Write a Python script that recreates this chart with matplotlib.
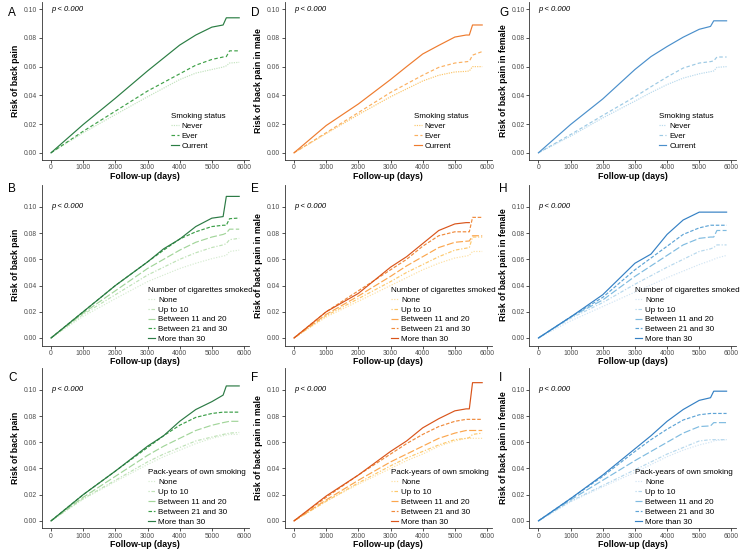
import numpy as np
import matplotlib
matplotlib.use('Agg')
import matplotlib.pyplot as plt

plt.rcParams['font.family'] = ['Liberation Sans', 'DejaVu Sans']

nan = np.nan
days = [0, 1000, 2000, 3000, 3500, 4000, 4500, 5000, 5350, 5450, 5550, 5850]

status_labels = ['Never', 'Ever', 'Current']
amount_labels = ['None', 'Up to 10', 'Between 11 and 20', 'Between 21 and 30', 'More than 30']

# A - smoking status, all
a_never = [0, 0.0139, 0.0266, 0.039, 0.045, 0.051, 0.0555, 0.058, 0.0597, 0.0606, 0.0625, 0.063]
a_ever = [0, 0.015, 0.029, 0.043, 0.049, 0.055, 0.061, 0.065, 0.0667, 0.067, 0.071, 0.071]
a_current = [0, 0.0197, 0.038, 0.057, 0.066, 0.075, 0.082, 0.0875, 0.089, 0.094, 0.094, 0.094]

# B - cigarettes smoked, all
b_none = [0, 0.0165, 0.030, 0.043, 0.048, 0.053, 0.057, 0.0605, 0.0625, 0.063, 0.066, 0.067]
b_up10 = [0, 0.018, 0.033, 0.048, 0.054, 0.060, 0.065, 0.069, 0.071, 0.072, 0.075, 0.076]
b_11_20 = [0, 0.019, 0.036, 0.053, 0.060, 0.067, 0.073, 0.077, 0.079, 0.080, 0.083, 0.083]
b_21_30 = [0, 0.020, 0.040, 0.058, 0.067, 0.0755, 0.081, 0.085, 0.086, 0.086, 0.091, 0.0915]
b_over30 = [0, 0.020, 0.040, 0.058, 0.068, 0.0754, 0.085, 0.0914, 0.0926, 0.108, 0.108, 0.108]

# C - pack-years, all
c_none = [0, 0.0165, 0.030, 0.043, 0.049, 0.054, 0.059, 0.063, 0.065, 0.0655, 0.066, 0.066]
c_up10 = [0, 0.017, 0.031, 0.045, 0.051, 0.056, 0.061, 0.064, 0.066, 0.0665, 0.067, 0.0675]
c_11_20 = [0, 0.018, 0.034, 0.050, 0.057, 0.063, 0.069, 0.073, 0.075, 0.0755, 0.076, 0.076]
c_21_30 = [0, 0.020, 0.038, 0.056, 0.065, 0.073, 0.079, 0.082, 0.083, 0.083, 0.083, 0.083]
c_over30 = [0, 0.020, 0.038, 0.057, 0.065, 0.076, 0.085, 0.091, 0.096, 0.103, 0.103, 0.103]

# D - smoking status, male
d_never = [0, 0.0134, 0.0266, 0.039, 0.0445, 0.050, 0.054, 0.0563, 0.0567, 0.057, 0.060, 0.060]
d_ever = [0, 0.014, 0.028, 0.042, 0.048, 0.054, 0.0595, 0.0625, 0.0634, 0.0637, 0.068, 0.0705]
d_current = [0, 0.019, 0.034, 0.051, 0.060, 0.0688, 0.0748, 0.0806, 0.082, 0.082, 0.089, 0.089]

# E - cigarettes smoked, male
e_none = [0, 0.016, 0.028, 0.040, 0.046, 0.052, 0.057, 0.061, 0.0625, 0.063, 0.066, 0.066]
e_up10 = [0, 0.017, 0.030, 0.043, 0.050, 0.056, 0.062, 0.067, 0.0685, 0.069, 0.077, 0.077]
e_11_20 = [0, 0.018, 0.032, 0.047, 0.055, 0.062, 0.069, 0.073, 0.0738, 0.074, 0.078, 0.078]
e_21_30 = [0, 0.020, 0.036, 0.052, 0.060, 0.070, 0.078, 0.081, 0.081, 0.081, 0.092, 0.092]
e_over30 = [0, 0.020, 0.034, 0.054, 0.062, 0.072, 0.082, 0.087, 0.088, 0.088, nan, nan]

# F - pack-years, male
f_none = [0, 0.015, 0.028, 0.040, 0.046, 0.051, 0.057, 0.061, 0.063, 0.063, 0.063, 0.063]
f_up10 = [0, 0.015, 0.029, 0.042, 0.048, 0.053, 0.058, 0.062, 0.063, 0.0635, 0.066, 0.067]
f_11_20 = [0, 0.016, 0.031, 0.045, 0.051, 0.057, 0.063, 0.067, 0.069, 0.069, 0.069, 0.069]
f_21_30 = [0, 0.018, 0.035, 0.051, 0.059, 0.066, 0.072, 0.076, 0.0775, 0.0775, 0.0775, 0.0775]
f_over30 = [0, 0.019, 0.035, 0.053, 0.061, 0.071, 0.078, 0.084, 0.0855, 0.0855, 0.1055, 0.1055]

# G - smoking status, female
g_never = [0, 0.0116, 0.0243, 0.036, 0.042, 0.0475, 0.052, 0.055, 0.0565, 0.057, 0.0595, 0.060]
g_ever = [0, 0.0127, 0.026, 0.039, 0.046, 0.0528, 0.059, 0.0625, 0.0635, 0.064, 0.0667, 0.0667]
g_current = [0, 0.0197, 0.0375, 0.058, 0.067, 0.074, 0.0805, 0.086, 0.088, 0.0919, 0.0919, 0.0919]

# H - cigarettes smoked, female
h_none = [0, 0.013, 0.024, 0.035, 0.0405, 0.046, 0.051, 0.056, 0.059, 0.060, 0.061, 0.063]
h_up10 = [0, 0.015, 0.027, 0.041, 0.0475, 0.054, 0.060, 0.066, 0.068, 0.069, 0.071, 0.071]
h_11_20 = [0, 0.016, 0.029, 0.047, 0.055, 0.063, 0.071, 0.076, 0.077, 0.077, 0.082, 0.082]
h_21_30 = [0, 0.016, 0.031, 0.052, 0.061, 0.070, 0.079, 0.084, 0.086, 0.086, 0.086, 0.086]
h_over30 = [0, 0.016, 0.033, 0.057, 0.064, 0.079, 0.090, 0.096, 0.096, 0.096, 0.096, 0.096]

# I - pack-years, female
i_none = [0, 0.0145, 0.026, 0.037, 0.043, 0.049, 0.054, 0.058, 0.060, 0.061, 0.0615, 0.062]
i_up10 = [0, 0.015, 0.027, 0.039, 0.045, 0.051, 0.056, 0.061, 0.062, 0.062, 0.062, 0.062]
i_11_20 = [0, 0.016, 0.031, 0.046, 0.053, 0.060, 0.067, 0.072, 0.0725, 0.075, 0.075, 0.075]
i_21_30 = [0, 0.017, 0.034, 0.053, 0.062, 0.070, 0.077, 0.081, 0.082, 0.082, 0.082, 0.082]
i_over30 = [0, 0.017, 0.035, 0.055, 0.065, 0.076, 0.085, 0.092, 0.094, 0.099, 0.099, 0.099]

greens3 = ['#c3e3bf', '#3ea047', '#2a7d43']
greens5 = ['#d6ecd1', '#bfe2b7', '#a2d59a', '#3a9e47', '#2b7a44']
oranges3 = ['#fcc66b', '#fbb060', '#ee7b2e']
oranges5 = ['#fee0a2', '#fdc86c', '#fba64e', '#f08a3c', '#d9541a']
blues3 = ['#b8d9ed', '#9cc9e4', '#4a8fcb']
blues5 = ['#d2e5f4', '#b6d8ed', '#7fbbe0', '#5ea4d6', '#3480c4']

ls3 = [(0, (1, 1)), (0, (3, 2)), '-']
ls5 = [(0, (1, 1.3)), (0, (1, 1.5, 3, 1.5)), (0, (6, 2)), (0, (3, 1.5)), '-']

panels = [
    ('A', 0, 0, [a_never, a_ever, a_current], status_labels, 'Smoking status', 'Risk of back pain', greens3),
    ('B', 1, 0, [b_none, b_up10, b_11_20, b_21_30, b_over30], amount_labels, 'Number of cigarettes smoked', 'Risk of back pain', greens5),
    ('C', 2, 0, [c_none, c_up10, c_11_20, c_21_30, c_over30], amount_labels, 'Pack-years of own smoking', 'Risk of back pain', greens5),
    ('D', 0, 1, [d_never, d_ever, d_current], status_labels, 'Smoking status', 'Risk of back pain in male', oranges3),
    ('E', 1, 1, [e_none, e_up10, e_11_20, e_21_30, e_over30], amount_labels, 'Number of cigarettes smoked', 'Risk of back pain in male', oranges5),
    ('F', 2, 1, [f_none, f_up10, f_11_20, f_21_30, f_over30], amount_labels, 'Pack-years of own smoking', 'Risk of back pain in male', oranges5),
    ('G', 0, 2, [g_never, g_ever, g_current], status_labels, 'Smoking status', 'Risk of back pain in female', blues3),
    ('H', 1, 2, [h_none, h_up10, h_11_20, h_21_30, h_over30], amount_labels, 'Number of cigarettes smoked', 'Risk of back pain in female', blues5),
    ('I', 2, 2, [i_none, i_up10, i_11_20, i_21_30, i_over30], amount_labels, 'Pack-years of own smoking', 'Risk of back pain in female', blues5),
]

W, H = 750, 550
col_left = [41.6, 284.6, 529]
col_width = 207
row_top = [2, 184.6, 367.6]
row_height = [158, 161, 160.5]
row_ylim = [(-0.005, 0.105), (-0.0058, 0.117), (-0.0055, 0.117)]
letter_x = [8, 251, 499]
letter_y = [7, 183, 372]
axis_col = '#333333'

fig = plt.figure(figsize=(7.5, 5.5), dpi=100)

for letter, row, col, curves, labels, title, ylab, colors in panels:
    rect = [col_left[col] / W, (H - row_top[row] - row_height[row]) / H,
            col_width / W, row_height[row] / H]
    ax = fig.add_axes(rect)
    styles = ls3 if len(curves) == 3 else ls5
    for y, lab, c, ls in zip(curves, labels, colors, styles):
        ax.plot(days, y, color=c, linestyle=ls, linewidth=0.85, label=lab)
    ax.set_xlim(-292.5, 6142.5)
    ax.set_ylim(*row_ylim[row])
    ax.set_xticks(range(0, 6001, 1000))
    ax.set_yticks([0, 0.02, 0.04, 0.06, 0.08, 0.10])
    ax.set_yticklabels(['%.2f' % v for v in [0, 0.02, 0.04, 0.06, 0.08, 0.10]])
    for s in ['top', 'right']:
        ax.spines[s].set_visible(False)
    for s in ['left', 'bottom']:
        ax.spines[s].set_color(axis_col)
        ax.spines[s].set_linewidth(0.6)
    ax.tick_params(labelsize=4.9, labelcolor='#4d4d4d', color=axis_col,
                   length=2, width=0.6, pad=1.2)
    ax.set_xlabel('Follow-up (days)', fontsize=6.3, fontweight='bold', labelpad=0.3)
    ax.set_ylabel(ylab, fontsize=6.3, fontweight='bold', labelpad=2.5)
    ax.text(0, 0.1, 'p < 0.000', fontsize=5.5, style='italic', ha='left', va='center')
    if len(curves) == 3:
        anchor = (0.627, 0.065)
    else:
        anchor = (0.512, 0.015)
    ax.legend(title=title, loc='lower left', bbox_to_anchor=anchor, frameon=False,
              fontsize=5.8, title_fontsize=5.8, handlelength=0.9, handletextpad=0.4,
              labelspacing=0.28, borderpad=0, borderaxespad=0, alignment='left')
    fig.text(letter_x[col] / W, 1 - letter_y[row] / H, letter, fontsize=8.5,
             ha='left', va='top')

fig.savefig('out.png', dpi=100)
